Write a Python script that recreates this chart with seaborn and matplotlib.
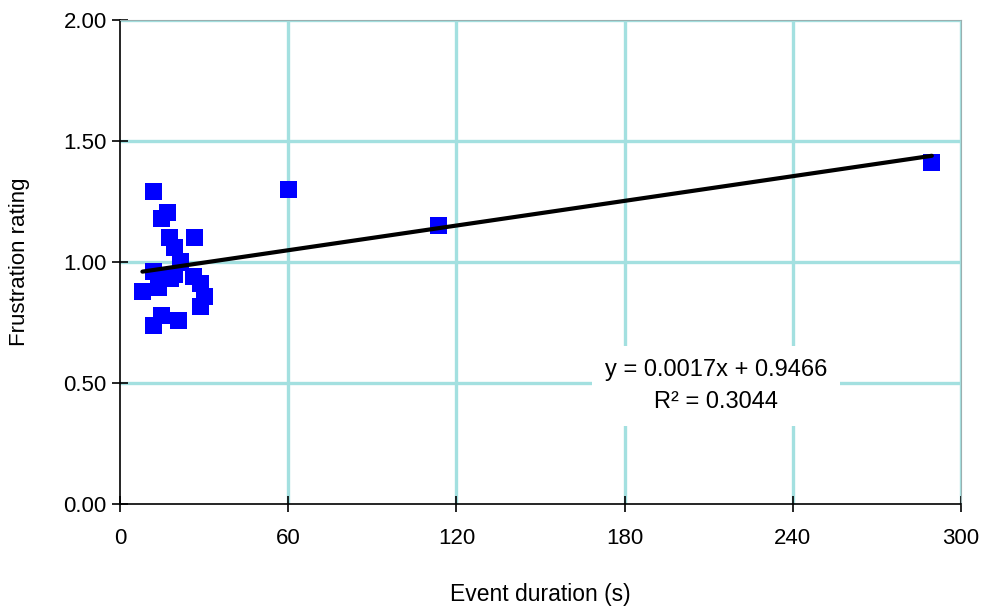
import matplotlib
matplotlib.use("Agg")
import matplotlib.pyplot as plt
import seaborn as sns
import pandas as pd
import numpy as np

# Event durations (s) and mean frustration ratings
durations = [12.0, 16.9, 14.8, 17.5, 26.4, 19.6, 21.7, 12.0, 19.3, 17.9,
             26.2, 8.0, 13.6, 28.6, 30.0, 28.6, 14.8, 21.0, 12.0,
             60.0, 113.6, 289.6]
ratings = [1.29, 1.205, 1.18, 1.10, 1.10, 1.06, 1.00, 0.96, 0.95, 0.93,
           0.94, 0.88, 0.895, 0.91, 0.857, 0.817, 0.778, 0.76, 0.737,
           1.30, 1.15, 1.41]

# Linear trend line as reported in the annotation
slope = 0.0017
intercept = 0.9466
r_squared = 0.3044

x_ticks = [0, 60, 120, 180, 240, 300]
y_ticks = [0.0, 0.5, 1.0, 1.5, 2.0]

sns.set_theme(style="white")
plt.rcParams["font.family"] = ["Liberation Sans", "DejaVu Sans"]
plt.rcParams["text.color"] = "black"
plt.rcParams["axes.labelcolor"] = "black"

df = pd.DataFrame({"duration": durations, "rating": ratings})
trend_x = np.array([min(durations), max(durations)])
trend = pd.DataFrame({"duration": trend_x, "rating": slope * trend_x + intercept})

fig = plt.figure(figsize=(9.86, 6.12), dpi=100)
ax = fig.add_axes([120 / 986, 108 / 612, 841 / 986, 484 / 612])

grid_color = "#A3E0E0"
for xv in x_ticks[1:]:
    ax.axvline(xv, color=grid_color, lw=2.4, zorder=0)
for yv in y_ticks[1:]:
    ax.axhline(yv, color=grid_color, lw=2.4, zorder=0)

sns.lineplot(data=trend, x="duration", y="rating", color="black", lw=3,
             ax=ax, zorder=3)
sns.scatterplot(data=df, x="duration", y="rating", marker="s", s=150,
                color="#0000FF", edgecolor="none", linewidth=0, ax=ax,
                zorder=2)

ax.set_xlim(0, 300)
ax.set_ylim(0, 2.0)
ax.set_xticks(x_ticks)
ax.set_xticklabels([str(v) for v in x_ticks])
ax.set_yticks(y_ticks)
ax.set_yticklabels([f"{v:.2f}" for v in y_ticks])

for side in ("left", "bottom"):
    ax.spines[side].set_color("black")
    ax.spines[side].set_linewidth(1.2)
for side in ("top", "right"):
    ax.spines[side].set_color("#9AAFAF")
    ax.spines[side].set_linewidth(0.8)

ax.tick_params(axis="both", direction="inout", length=11, width=1.2,
               color="black", labelsize=16, labelcolor="black")
ax.tick_params(axis="x", pad=12, top=False, bottom=True)
ax.tick_params(axis="y", pad=4, right=False, left=True)

ax.set_xlabel("Event duration (s)", fontsize=16.5, labelpad=24)
ax.set_ylabel("Frustration rating", fontsize=16, labelpad=24)

ax.text(212.5, 0.488,
        f"y = {slope:.4f}x + {intercept:.4f}\nR\u00b2 = {r_squared:.4f}",
        ha="center", va="center", fontsize=17, linespacing=1.6,
        multialignment="center", color="black",
        bbox=dict(boxstyle="square,pad=0.55", fc="white", ec="none"),
        zorder=4)

fig.savefig("out.png", dpi=100)
